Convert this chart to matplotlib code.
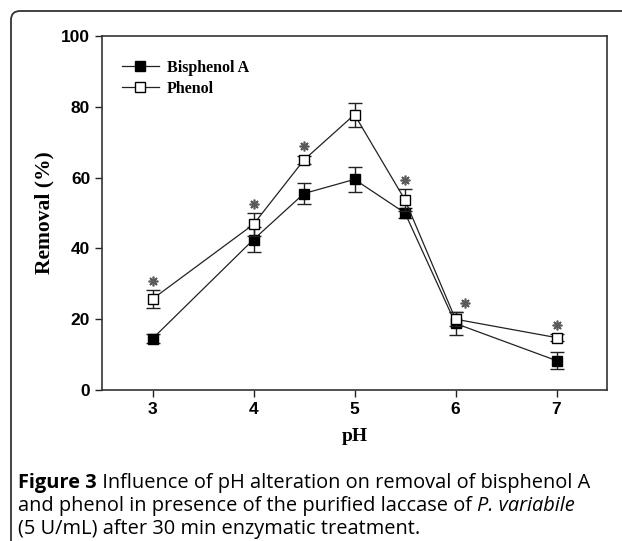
import matplotlib
matplotlib.use("Agg")
import matplotlib.pyplot as plt
from matplotlib.patches import FancyBboxPatch
from matplotlib.lines import Line2D
import numpy as np

# Data
ph = [3, 4, 4.5, 5, 5.5, 6, 7]
bpa = [14.5, 42.5, 55.5, 59.5, 50.0, 18.8, 8.3]
bpa_err = [1.2, 3.5, 3.0, 3.5, 1.5, 3.3, 2.5]
phenol = [25.7, 46.8, 65.0, 77.8, 53.7, 20.0, 14.8]
phenol_err = [2.5, 3.2, 1.2, 3.4, 3.0, 2.0, 1.0]
star_ph = [3, 4, 4.5, 5.5, 6, 7]
xticks = [3, 4, 5, 6, 7]
yticks = [0, 20, 40, 60, 80, 100]
series_names = ["Bisphenol A", "Phenol"]

W, H = 622, 541
fig = plt.figure(figsize=(W / 100, H / 100), dpi=100)

# rounded frame
frame = FancyBboxPatch((11 / 100, -1.0), 7.0, (H - 11) / 100 + 1.0,
                       boxstyle="round,pad=0,rounding_size=0.09",
                       transform=fig.dpi_scale_trans, fill=False,
                       edgecolor="#333333", linewidth=1.3, clip_on=False)
fig.patches.append(frame)

ax = fig.add_axes([102 / W, 1 - 390 / H, (607 - 102) / W, (390 - 36) / H])
ax.set_xlim(2.5, 7.5)
ax.set_ylim(0, 100)

lc = "#222222"
ax.errorbar(ph, bpa, yerr=bpa_err, color=lc, lw=0.9, marker="s", ms=6.5,
            mfc="black", mec="black", capsize=5, capthick=1.0, elinewidth=1.0,
            zorder=3)
ax.errorbar(ph, phenol, yerr=phenol_err, color=lc, lw=0.9, marker="s", ms=6.5,
            mfc="white", mec="black", mew=1.0, capsize=5, capthick=1.0, elinewidth=1.0,
            zorder=4)

# asterisks
for x in star_ph:
    i = ph.index(x)
    sx = x + (0.09 if x == 6 else 0)
    sy = phenol[i] + phenol_err[i] + 2.6
    ax.plot(sx, sy, marker=(8, 2, 0), ms=7, color="#5a5a5a", mew=1.2, zorder=5)

ax.set_xticks(xticks)
ax.set_yticks(yticks)
ax.tick_params(axis="both", direction="out", length=5, width=1.0, colors="#222222",
               labelsize=12.5, labelcolor="black", top=False, right=False)
for lab in ax.get_xticklabels() + ax.get_yticklabels():
    lab.set_family("Liberation Sans")
    lab.set_fontweight("bold")
for s in ax.spines.values():
    s.set_linewidth(1.2)
    s.set_color("#333333")

ax.set_xlabel("pH", family="Liberation Serif", fontweight="bold", fontsize=14, labelpad=8)
ax.set_ylabel("Removal (%)", family="Liberation Serif", fontweight="bold", fontsize=15.5, labelpad=5)

handles = [
    Line2D([], [], color=lc, lw=0.9, marker="s", ms=6.5, mfc="black", mec="black"),
    Line2D([], [], color=lc, lw=0.9, marker="s", ms=6.5, mfc="white", mec="black", mew=1.0),
]
leg = ax.legend(handles, series_names, loc="upper left", bbox_to_anchor=(0.027, 0.95),
                frameon=False,
                prop={"family": "Liberation Serif", "weight": "bold", "size": 11.5},
                handlelength=2.3, handletextpad=0.5, labelspacing=0.3, borderaxespad=0)

# caption
fig.canvas.draw()
r = fig.canvas.get_renderer()
fs = 14.4
cap_font = "Open Sans"

def place(parts, y):
    x = 18
    for txt, kw in parts:
        t = fig.text(x / W, 1 - y / H, txt, fontsize=fs, family=cap_font,
                     va="center", ha="left", color="black", **kw)
        bb = t.get_window_extent(renderer=r)
        x += bb.width

place([("Figure 3", {"fontweight": "bold"}),
       (" Influence of pH alteration on removal of bisphenol A", {})], 483)
place([("and phenol in presence of the purified laccase of ", {}),
       ("P. variabile", {"style": "italic"})], 506)
place([("(5 U/mL) after 30 min enzymatic treatment.", {})], 529)

fig.savefig("out.png", dpi=100)
